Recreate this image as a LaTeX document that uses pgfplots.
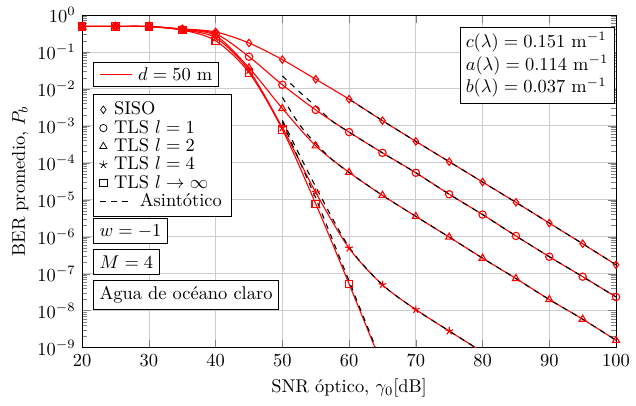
\documentclass[border=0pt]{standalone}
\usepackage{fontspec}
\usepackage{pgfplots}
\pgfplotsset{compat=1.18}
\begin{document}
\begin{tikzpicture}
\begin{axis}[
    scale only axis, width=289.8pt, height=180.6pt,
    ymode=log,
    xmin=20, xmax=100, ymin=1e-9, ymax=1,
    xtick={20,30,...,100},
    ytick={1e-9,1e-8,1e-7,1e-6,1e-5,1e-4,1e-3,1e-2,1e-1,1},
    grid=major, grid style={black!20},
    xlabel={SNR óptico, $\gamma_0$[dB]},
    ylabel={BER promedio, $P_b$},
    ylabel style={yshift=-2pt},
    legend style={at={(0.0204,0.762)}, anchor=north west, draw=black,
        fill=white, font=\normalsize, legend cell align=left, row sep=-2.6pt},
]
% SISO
\addplot[red, semithick, smooth, mark=diamond, mark size=2pt, forget plot] coordinates {
    (20,0.49) (25,0.49) (30,0.485) (35,0.42) (40,0.347) (45,0.174) (50,0.0617)
    (55,0.0182) (60,5.25e-3) (65,1.38e-3) (70,3.80e-4) (75,1.07e-4) (80,3.02e-5)
    (85,8.51e-6) (90,2.34e-6) (95,6.46e-7) (100,1.74e-7) };
% TLS l=1
\addplot[red, semithick, smooth, mark=o, mark size=2pt, forget plot] coordinates {
    (20,0.49) (25,0.49) (30,0.485) (35,0.41) (40,0.309) (45,0.0741) (50,0.0129)
    (55,2.69e-3) (60,6.76e-4) (65,1.86e-4) (70,5.37e-5) (75,1.41e-5) (80,3.98e-6)
    (85,1.05e-6) (90,2.88e-7) (95,8.32e-8) (100,2.34e-8) };
% TLS l=2
\addplot[red, semithick, smooth, mark=triangle, mark size=2.2pt, forget plot] coordinates {
    (20,0.49) (25,0.49) (30,0.485) (35,0.40) (40,0.275) (45,0.0372) (50,2.95e-3)
    (55,2.88e-4) (60,5.50e-5) (65,1.32e-5) (70,3.55e-6) (75,9.77e-7) (80,2.63e-7)
    (85,7.41e-8) (90,2.00e-8) (95,5.89e-9) (100,1.58e-9) };
% TLS l=4
\addplot[red, semithick, smooth, mark=star, mark size=2.2pt, forget plot,
    mark indices={1,2,3,4,5,6,7,8,9,10,11,12}] coordinates {
    (20,0.49) (25,0.49) (30,0.485) (35,0.395) (40,0.240) (45,0.0316) (50,8.91e-4)
    (55,1.58e-5) (60,4.90e-7) (65,5.01e-8) (70,1.07e-8) (75,2.82e-9) (80,7.6e-10) };
% TLS l -> inf
\addplot[red, semithick, smooth, mark=square, mark size=2pt, forget plot,
    mark indices={1,2,3,4,5,6,7,8,9}] coordinates {
    (20,0.49) (25,0.49) (30,0.485) (35,0.39) (40,0.20) (45,0.0275) (50,7.94e-4)
    (55,7.76e-6) (60,5.25e-8) (65,3.16e-10) };
% asintoticos
\addplot[black, semithick, dashed, smooth, forget plot] coordinates {
    (60,5.25e-3) (65,1.38e-3) (70,3.80e-4) (75,1.07e-4) (80,3.02e-5)
    (85,8.51e-6) (90,2.34e-6) (95,6.46e-7) (100,1.74e-7) };
\addplot[black, semithick, dashed, smooth, forget plot] coordinates {
    (50,0.0224) (52.5,8.51e-3) (55,3.39e-3) (57.5,1.32e-3) (60,6.76e-4)
    (65,1.86e-4) (70,5.37e-5) (75,1.41e-5) (80,3.98e-6)
    (85,1.05e-6) (90,2.88e-7) (95,8.32e-8) (100,2.34e-8) };
\addplot[black, semithick, dashed, smooth, forget plot] coordinates {
    (50,5.89e-3) (52.5,1.12e-3) (55,3.31e-4) (57.5,1.20e-4) (60,5.50e-5)
    (65,1.32e-5) (70,3.55e-6) (75,9.77e-7) (80,2.63e-7)
    (85,7.41e-8) (90,2.00e-8) (95,5.89e-9) (100,1.58e-9) };
\addplot[black, semithick, dashed, smooth, forget plot] coordinates {
    (50,1.41e-3) (55,2.24e-5) (60,5.25e-7) (65,5.01e-8) (70,1.07e-8)
    (75,2.82e-9) (80,7.6e-10) };
\addplot[black, semithick, dashed, forget plot] coordinates {
    (50,1.26e-3) (55,1.12e-5) (60,6.31e-8) (65,3.55e-10) };

\addlegendimage{legend image code/.code={\path (-2.2pt,0pt) (3.6pt,0pt); \draw[black, mark=diamond, mark size=2pt] plot coordinates {(0cm,0cm)};}}
\addlegendentry{SISO}
\addlegendimage{legend image code/.code={\path (-2.2pt,0pt) (3.6pt,0pt); \draw[black, mark=o, mark size=2pt] plot coordinates {(0cm,0cm)};}}
\addlegendentry{TLS $l=1$}
\addlegendimage{legend image code/.code={\path (-2.2pt,0pt) (3.6pt,0pt); \draw[black, mark=triangle, mark size=2.2pt] plot coordinates {(0cm,0cm)};}}
\addlegendentry{TLS $l=2$}
\addlegendimage{legend image code/.code={\path (-2.2pt,0pt) (3.6pt,0pt); \draw[black, mark=star, mark size=2.2pt] plot coordinates {(0cm,0cm)};}}
\addlegendentry{TLS $l=4$}
\addlegendimage{legend image code/.code={\path (-2.2pt,0pt) (3.6pt,0pt); \draw[black, mark=square, mark size=2pt] plot coordinates {(0cm,0cm)};}}
\addlegendentry{TLS $l\rightarrow\infty$}
\addlegendimage{legend image code/.code={\draw[black, dashed, overlay] (-0.06cm,0cm) -- (0.51cm,0cm);}}
\addlegendentry{\hspace{14pt}Asintótico}

\coordinate (dpos) at (rel axis cs:0.0204,0.860);
\coordinate (wpos) at (rel axis cs:0.0204,0.390);
\coordinate (mpos) at (rel axis cs:0.0204,0.295);
\coordinate (apos) at (rel axis cs:0.0204,0.2024);
\coordinate (cpos) at (rel axis cs:0.997,0.965);
\end{axis}
\node[draw, fill=white, anchor=north west, inner sep=3.3pt] (dbox) at (dpos)
    {\hspace{21pt}$d = 50$~m};
\draw[red, semithick] ([xshift=4pt]dbox.west) -- ++(17pt,0);
\node[draw, fill=white, anchor=north west, inner sep=3.3pt] at (wpos) {$w=-1$};
\node[draw, fill=white, anchor=north west, inner sep=3.3pt] at (mpos) {$M=4$};
\node[draw, fill=white, anchor=north west, inner sep=3.3pt] at (apos) {Agua de océano claro};
\node[draw, fill=white, anchor=north east, align=left, inner sep=3.1pt] at (cpos)
    {$c(\lambda) = 0.151$~m$^{-1}$\\[0.3pt] $a(\lambda) = 0.114$~m$^{-1}$\\[0.3pt] $b(\lambda) = 0.037$~m$^{-1}$};
\path (-44.6pt,-31.2pt) rectangle (297.3pt,188.7pt);
\end{tikzpicture}
\end{document}
